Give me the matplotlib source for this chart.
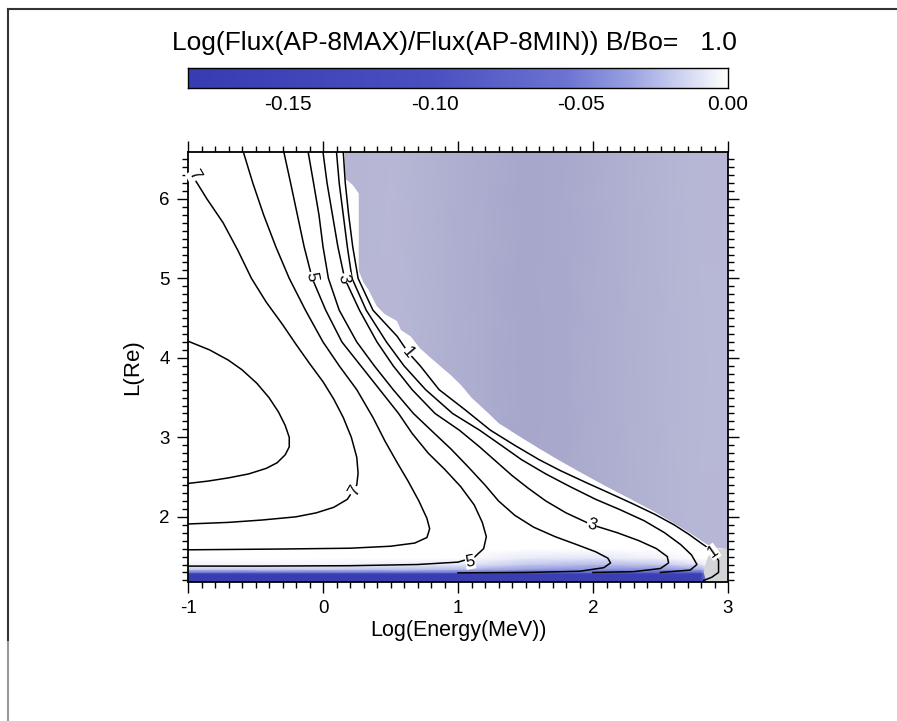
import numpy as np
import matplotlib
matplotlib.use("Agg")
import matplotlib.pyplot as plt
from matplotlib.colors import LinearSegmentedColormap, Normalize
from matplotlib.patches import Polygon
from matplotlib.lines import Line2D
from matplotlib.ticker import MultipleLocator

plt.rcParams['font.family'] = ['Liberation Sans', 'DejaVu Sans']
plt.rcParams['axes.unicode_minus'] = False

title = "Log(Flux(AP-8MAX)/Flux(AP-8MIN)) B/Bo=   1.0"

# ratio colour scale
ratio_min, ratio_max = -0.184, 0.0
ratio_ticks = [-0.15, -0.10, -0.05, 0.00]

# log flux contours, traced as (E, L) paths
levels = [8, 7, 6, 5, 4, 3, 2, 1]
contour_E = {
    8: [-1.0, -0.84, -0.70, -0.60, -0.49, -0.40, -0.33, -0.28, -0.25, -0.25, -0.28, -0.34, -0.42, -0.55, -0.70, -0.85, -1.0],
    7: [-0.94, -0.86, -0.74, -0.63, -0.53, -0.42, -0.30, -0.20, -0.10, 0.0, 0.08, 0.15, 0.21, 0.25, 0.26, 0.25,
        0.18, 0.08, -0.05, -0.20, -0.45, -0.70, -1.0],
    6: [-0.59, -0.52, -0.44, -0.35, -0.25, -0.13, 0.0, 0.12, 0.25, 0.37, 0.46, 0.55, 0.63, 0.71, 0.77, 0.79,
        0.77, 0.68, 0.50, 0.20, -0.30, -1.0],
    5: [-0.29, -0.24, -0.19, -0.14, -0.08, 0.02, 0.14, 0.28, 0.42, 0.56, 0.66, 0.78, 0.90, 1.02, 1.12, 1.18,
        1.21, 1.19, 1.12, 1.00, 0.70, 0.20, -0.50, -1.0],
    4: [-0.11, -0.07, -0.03, 0.0, 0.04, 0.12, 0.25, 0.38, 0.52, 0.67, 0.80, 0.95, 1.08, 1.20, 1.30, 1.42,
        1.56, 1.72, 1.88, 2.02, 2.11, 2.13, 2.08, 1.90, 1.50, 1.00],
    3: [0.0, 0.03, 0.07, 0.11, 0.16, 0.27, 0.40, 0.52, 0.66, 0.83, 1.01, 1.16, 1.28, 1.40, 1.52, 1.65,
        1.80, 1.99, 2.18, 2.34, 2.47, 2.55, 2.56, 2.50, 2.30, 2.00],
    2: [0.10, 0.12, 0.15, 0.18, 0.215, 0.32, 0.47, 0.60, 0.76, 0.96, 1.16, 1.32, 1.47, 1.65, 1.83, 2.02,
        2.20, 2.38, 2.53, 2.65, 2.73, 2.77, 2.72, 2.50],
    1: [0.15, 0.165, 0.19, 0.22, 0.26, 0.37, 0.55, 0.63, 0.72, 0.86, 1.05, 1.24, 1.42, 1.60, 1.76, 1.95,
        2.12, 2.30, 2.46, 2.60, 2.71, 2.80, 2.86, 2.89, 2.93, 2.93, 2.88, 2.82],
}
contour_L = {
    8: [4.21, 4.10, 3.97, 3.85, 3.68, 3.50, 3.32, 3.15, 3.00, 2.88, 2.78, 2.68, 2.61, 2.54, 2.49, 2.45, 2.42],
    7: [6.22, 6.00, 5.70, 5.35, 5.00, 4.70, 4.42, 4.17, 3.93, 3.70, 3.48, 3.25, 3.00, 2.75, 2.55, 2.40,
        2.22, 2.12, 2.05, 2.00, 1.96, 1.93, 1.91],
    6: [6.59, 6.20, 5.80, 5.40, 5.00, 4.60, 4.20, 3.90, 3.60, 3.25, 2.95, 2.68, 2.45, 2.20, 1.98, 1.85,
        1.74, 1.67, 1.63, 1.605, 1.595, 1.585],
    5: [6.59, 6.20, 5.80, 5.40, 5.00, 4.60, 4.20, 3.90, 3.60, 3.30, 3.05, 2.80, 2.60, 2.38, 2.15, 1.93,
        1.75, 1.60, 1.49, 1.43, 1.40, 1.385, 1.38, 1.38],
    4: [6.59, 6.20, 5.80, 5.40, 5.00, 4.60, 4.20, 3.90, 3.60, 3.30, 3.09, 2.85, 2.62, 2.40, 2.20, 2.02,
        1.87, 1.75, 1.65, 1.56, 1.48, 1.42, 1.36, 1.315, 1.30, 1.295],
    3: [6.59, 6.20, 5.80, 5.40, 5.00, 4.60, 4.20, 3.90, 3.60, 3.30, 3.09, 2.88, 2.70, 2.52, 2.36, 2.20,
        2.05, 1.90, 1.80, 1.70, 1.60, 1.50, 1.42, 1.35, 1.31, 1.30],
    2: [6.59, 6.20, 5.80, 5.40, 5.00, 4.60, 4.20, 3.90, 3.60, 3.30, 3.09, 2.90, 2.72, 2.54, 2.38, 2.22,
        2.09, 1.95, 1.80, 1.65, 1.52, 1.40, 1.33, 1.30],
    1: [6.59, 6.20, 5.80, 5.40, 5.00, 4.60, 4.27, 4.07, 3.90, 3.60, 3.35, 3.09, 2.90, 2.72, 2.58, 2.43,
        2.30, 2.16, 2.03, 1.90, 1.78, 1.67, 1.60, 1.55, 1.45, 1.30, 1.24, 1.20],
}
# contour labels: (level, E, L, rotation)
label_pos = [(7, -0.955, 6.30, -60), (5, -0.085, 5.02, -80), (3, 0.155, 5.00, -80),
             (1, 0.63, 4.07, -50), (7, 0.23, 2.33, 60), (5, 1.09, 1.44, 10),
             (3, 1.99, 1.90, -15), (1, 2.89, 1.56, 35)]

# edge of the region without model flux (upper right)
edge_E = [0.16, 0.17, 0.22, 0.265, 0.265, 0.265, 0.30, 0.34, 0.40, 0.46, 0.55, 0.58, 0.65, 0.72, 0.80, 0.88,
          0.95, 1.03, 1.10, 1.20, 1.30, 1.45, 1.60, 1.76, 1.92, 2.08, 2.25, 2.45, 2.60, 2.72, 2.82, 2.88, 3.0]
edge_L = [6.59, 6.25, 6.18, 6.07, 5.60, 5.10, 4.95, 4.85, 4.65, 4.55, 4.47, 4.35, 4.27, 4.12, 4.00, 3.88,
          3.78, 3.65, 3.50, 3.35, 3.18, 3.02, 2.86, 2.70, 2.55, 2.40, 2.25, 2.07, 1.92, 1.80, 1.68, 1.62, 1.60]
# column shading inside that region (0 = darker, 1 = lighter)
outside_E = [0.15, 0.50, 0.90, 1.20, 1.50, 1.80, 2.10, 2.40, 2.70, 3.00]
outside_shade = [0.75, 0.85, 0.60, 0.45, 0.30, 0.38, 0.55, 0.65, 0.80, 0.85]

# speckled corner at the highest energies
corner_E = [2.88, 3.0, 3.0, 2.84, 2.82, 2.84]
corner_L = [1.60, 1.60, 1.18, 1.18, 1.30, 1.45]

# ratio map near the loss cone (node values, rows = L, cols = E)
ratio_E_nodes = [-1.0, 0.0, 1.0, 1.5, 2.0, 2.5, 2.8, 2.86, 3.0]
ratio_L_nodes = [1.18, 1.285, 1.30, 1.34, 1.40, 1.48, 1.60, 6.59]
ratio_vals = [
    [-0.180, -0.180, -0.180, -0.180, -0.178, -0.178, -0.175, -0.030, -0.020],
    [-0.175, -0.175, -0.175, -0.172, -0.170, -0.168, -0.160, -0.030, -0.020],
    [-0.060, -0.060, -0.060, -0.070, -0.070, -0.080, -0.080, -0.020, -0.020],
    [-0.020, -0.020, -0.025, -0.035, -0.040, -0.040, -0.030, -0.010, -0.010],
    [-0.005, -0.005, -0.008, -0.020, -0.025, -0.020, -0.010, 0.0, 0.0],
    [0.0, 0.0, 0.0, -0.008, -0.010, -0.005, 0.0, 0.0, 0.0],
    [0.0, 0.0, 0.0, 0.0, 0.0, 0.0, 0.0, 0.0, 0.0],
    [0.0, 0.0, 0.0, 0.0, 0.0, 0.0, 0.0, 0.0, 0.0],
]

cmap = LinearSegmentedColormap.from_list(
    "ratio", [(0.0, "#383cb2"), (0.45, "#4a50c0"), (0.70, "#6c74d2"),
              (0.82, "#9aa2e2"), (0.91, "#cdd1f0"), (1.0, "#ffffff")])
lavender = LinearSegmentedColormap.from_list("outside", ["#9e9ec6", "#bcbcd9"])
norm = Normalize(ratio_min, ratio_max)

fig = plt.figure(figsize=(8.97, 7.21), dpi=100)

ax = fig.add_axes([188 / 897, 1 - 582 / 721, 540 / 897, 430 / 721])
ax.pcolormesh(ratio_E_nodes, ratio_L_nodes, np.array(ratio_vals), cmap=cmap, norm=norm,
              shading='gouraud', zorder=1)

outside = Polygon(np.column_stack([edge_E + [3.0], edge_L + [6.59]]), closed=True,
                  facecolor="#aeaed2", edgecolor='none', zorder=2)
ax.add_patch(outside)
shade = ax.pcolormesh(outside_E, [1.18, 6.59], np.array([outside_shade, outside_shade]),
                      cmap=lavender, vmin=0, vmax=1, shading='gouraud', zorder=2.1)
shade.set_clip_path(outside)

ax.add_patch(Polygon(np.column_stack([corner_E, corner_L]), closed=True,
                     facecolor="#d2d4d8", edgecolor='none', zorder=2))

for lev in levels:
    ax.plot(contour_E[lev], contour_L[lev], color='black', lw=1.1, zorder=3)

for lev, e, l, rot in label_pos:
    ax.text(e, l, str(lev), fontsize=12, rotation=rot, ha='center', va='center', zorder=4,
            bbox=dict(boxstyle='square,pad=0.02', fc='white', ec='none'))

ax.set_xlim(-1, 3)
ax.set_ylim(1.18, 6.59)
ax.xaxis.set_major_locator(MultipleLocator(1))
ax.xaxis.set_minor_locator(MultipleLocator(0.1))
ax.yaxis.set_minor_locator(MultipleLocator(0.1))
ax.set_yticks([2, 3, 4, 5, 6])
ax.tick_params(which='both', direction='out', top=True, right=True, labelsize=13.5, width=1)
ax.tick_params(which='major', length=8, pad=5)
ax.tick_params(which='minor', length=4)
for s in ax.spines.values():
    s.set_linewidth(1.3)
ax.set_xlabel("Log(Energy(MeV))", fontsize=15.5, labelpad=2)
ax.set_ylabel("L(Re)", fontsize=16, labelpad=12)

# colour bar
cax = fig.add_axes([188 / 897, 1 - 88 / 721, 540 / 897, 20 / 721])
grad = np.linspace(ratio_min, ratio_max, 256)
cax.imshow(grad[np.newaxis, :], aspect='auto', cmap=cmap, norm=norm,
           extent=[ratio_min, ratio_max, 0, 1])
cax.set_xlim(ratio_min, ratio_max)
cax.set_yticks([])
cax.set_xticks(ratio_ticks)
cax.set_xticklabels(["%.2f" % t for t in ratio_ticks])
cax.tick_params(axis='x', length=0, pad=5, labelsize=15)
for s in cax.spines.values():
    s.set_linewidth(1.0)

fig.text(0.507, 1 - 43 / 721, title, ha='center', va='center', fontsize=19)

# page border
fig.add_artist(Line2D([8 / 897, 1.0], [1 - 9 / 721, 1 - 9 / 721], color='#333333', lw=1.5))
fig.add_artist(Line2D([8 / 897, 8 / 897], [1 - 9 / 721, 0.11], color='#333333', lw=1.5))
fig.add_artist(Line2D([8 / 897, 8 / 897], [0.11, 0.0], color='#999999', lw=1.5))

fig.savefig("out.png", dpi=100)
